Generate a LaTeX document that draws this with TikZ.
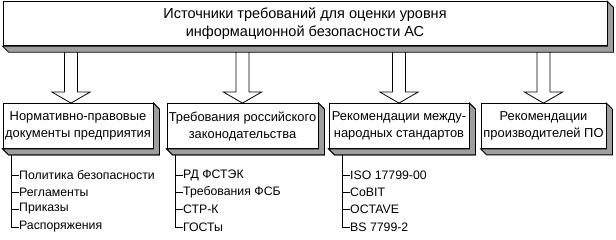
\documentclass[tikz,border=0pt]{standalone}
\usepackage{fontspec}
\setmainfont{Liberation Sans}
\usepackage{tikz}
\usetikzlibrary{calc}

\tikzset{
  frontbox/.style={draw, fill=white, line width=0.8pt, inner sep=0pt,
    minimum height=45pt, align=center, font=\fontsize{12.9}{17}\selectfont},
  sideface/.style={draw, fill=black!38, line width=0.8pt, line join=miter},
  arrowbody/.style={draw, fill=white, line width=0.8pt, line join=miter},
  treeline/.style={draw, line width=0.8pt},
  item/.style={anchor=west, inner sep=0pt, font=\fontsize{12.3}{14}\selectfont},
}

% grey faces on the lower and right sides of a box
\newcommand{\extrude}[1]{%
  \filldraw[sideface] (#1.south west) -- ++(6,6) -- ($(#1.south east)+(6,6)$)
    -- ($(#1.north east)+(6,6)$) -- (#1.north east) -- (#1.south east) -- cycle;}

% hollow block arrow from a box down to a tip coordinate
\newcommand{\bigarrow}[2]{%
  \filldraw[arrowbody] ($(#2 |- #1.south)+(-6.5,0)$) -- ($(#2)+(-6.5,-11)$)
    -- ++(-12.5,0) -- (#2) -- ++(19,-11) -- ++(-12.5,0)
    -- ($(#2 |- #1.south)+(6.5,0)$) -- cycle;}

\begin{document}
\begin{tikzpicture}[x=1pt,y=-1pt]
			\useasboundingbox (0,0) rectangle (616,240);
			
			% lower row of boxes
			\node[frontbox, minimum width=150pt] (b1) at (78,126)
				{Нормативно-правовые\\документы предприятия};
			\node[frontbox, minimum width=151pt] (b2) at (242.5,126)
				{Требования российского\\законодательства};
			\node[frontbox, minimum width=140pt] (b3) at (399,126)
				{Рекомендации между-\\народных стандартов};
			\node[frontbox, minimum width=125pt] (b4) at (543.5,126)
				{Рекомендации\\производителей ПО};
			\extrude{b1}
			\extrude{b2}
			\extrude{b3}
			\extrude{b4}
			
			% arrow tips
			\coordinate (tip1) at ($(b1.north)+(-7,0)$);
			\coordinate (tip2) at (b2.north);
			\coordinate (tip3) at (b3.north);
			\coordinate (tip4) at (b4.north);
			
			% top box (drawn after the arrows so that it covers them)
			\coordinate (src) at (305,46);
			\node[minimum width=604pt, minimum height=44pt, anchor=south] (top) at (src) {};
			\bigarrow{top}{tip1}
			\bigarrow{top}{tip2}
			\bigarrow{top}{tip3}
			\bigarrow{top}{tip4}
			\node[frontbox, minimum width=604pt, minimum height=44pt,
				font=\fontsize{14.5}{18.5}\selectfont] (head) at (top)
				{Источники требований для оценки уровня\\информационной безопасности АС};
			\extrude{head}
			
			% lists under the boxes
			\node[item] (l11) at (19,175) {Политика безопасности};
			\node[item] (l12) at (19,192) {Регламенты};
			\node[item] (l13) at (19,209) {Приказы};
			\node[item] (l14) at (19,227) {Распоряжения};
			
			\node[item] (l21) at (183,175) {РД ФСТЭК};
			\node[item] (l22) at (183,192) {Требования ФСБ};
			\node[item] (l23) at (183,209) {СТР-К};
			\node[item] (l24) at (183,227) {ГОСТы};
			
			\node[item] (l31) at (350,175) {ISO 17799-00};
			\node[item] (l32) at (350,192) {CoBIT};
			\node[item] (l33) at (350,209) {OCTAVE};
			\node[item] (l34) at (350,227) {BS 7799-2};
			
			% tree lines
			\coordinate (r1) at ($(b1.south west)+(9,0)$);
			\coordinate (r2) at ($(b2.south west)+(9,0)$);
			\coordinate (r3) at ($(b3.south west)+(14,0)$);
			\draw[treeline] (r1) |- (l11.west);
			\draw[treeline] (r1) |- (l12.west);
			\draw[treeline] (r1) |- (l13.west);
			\draw[treeline] (r1) |- (l14.west);
			\draw[treeline] (r2) |- (l21.west);
			\draw[treeline] (r2) |- (l22.west);
			\draw[treeline] (r2) |- (l23.west);
			\draw[treeline] (r2) |- (l24.west);
			\draw[treeline] (r3) |- (l31.west);
			\draw[treeline] (r3) |- (l32.west);
			\draw[treeline] (r3) |- (l33.west);
			\draw[treeline] (r3) |- (l34.west);
			
			% redraw boxes over the tree roots
			\extrude{b1}
			\extrude{b2}
			\extrude{b3}
			
		\end{tikzpicture}
\end{document}
